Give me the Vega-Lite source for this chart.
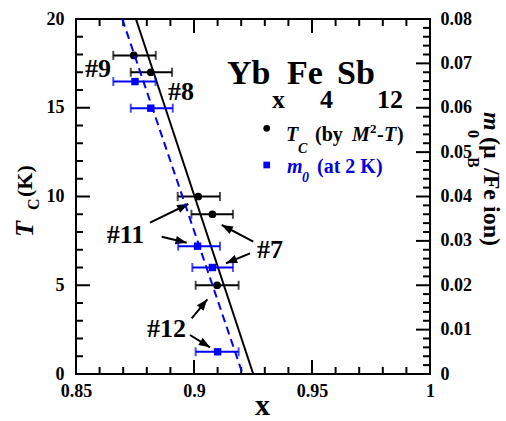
{
  "$schema": "https://vega.github.io/schema/vega-lite/v6.json",
  "width": 354,
  "height": 355,
  "autosize": {"type": "none"},
  "padding": {"left": 76, "top": 19, "right": 76, "bottom": 47},
  "background": "white",
  "config": {
    "view": {"stroke": "black", "strokeWidth": 2},
    "axis": {
      "grid": false, "domain": false, "ticks": false,
      "labelFont": "Liberation Serif", "labelFontWeight": "bold", "labelFontSize": 18, "labelColor": "black",
      "labelFlush": false, "labelOverlap": false, "labelBound": false, "title": null
    },
    "text": {"font": "Liberation Serif", "fontWeight": "bold", "color": "black"}
  },
  "datasets": {
    "blk": [
      {"x": 0.8745, "tc": 17.95, "xlo": 0.8658, "xhi": 0.8838},
      {"x": 0.8817, "tc": 17.0, "xlo": 0.8732, "xhi": 0.8907},
      {"x": 0.9018, "tc": 10.0, "xlo": 0.8931, "xhi": 0.9110},
      {"x": 0.9078, "tc": 9.0, "xlo": 0.8989, "xhi": 0.9165},
      {"x": 0.9098, "tc": 5.0, "xlo": 0.9007, "xhi": 0.9189}
    ],
    "blu": [
      {"x": 0.8750, "m": 0.0659, "xlo": 0.8658, "xhi": 0.8837},
      {"x": 0.8817, "m": 0.0599, "xlo": 0.8732, "xhi": 0.8910},
      {"x": 0.9015, "m": 0.0288, "xlo": 0.8933, "xhi": 0.9110},
      {"x": 0.9078, "m": 0.0240, "xlo": 0.8993, "xhi": 0.9165},
      {"x": 0.9100, "m": 0.0050, "xlo": 0.9007, "xhi": 0.9189}
    ],
    "arrows": [
      {"sx": 0.88136, "sy": 8.524, "tx": 0.89758, "ty": 9.577},
      {"sx": 0.88631, "sy": 7.735, "tx": 0.89691, "ty": 7.397},
      {"sx": 0.92513, "sy": 7.453, "tx": 0.91174, "ty": 8.394},
      {"sx": 0.92373, "sy": 6.800, "tx": 0.91356, "ty": 6.237},
      {"sx": 0.89903, "sy": 3.138, "tx": 0.90564, "ty": 4.208},
      {"sx": 0.89831, "sy": 2.197, "tx": 0.90678, "ty": 1.504}
    ],
    "tcline": [{"x": 0.8754, "tc": 20}, {"x": 0.9251, "tc": 0}],
    "mline": [{"x": 0.8696, "m": 0.08}, {"x": 0.9206, "m": 0}],
    "xmaj": [{"v": 0.85}, {"v": 0.9}, {"v": 0.95}, {"v": 1}],
    "xmin": [{"v": 0.86}, {"v": 0.87}, {"v": 0.88}, {"v": 0.89}, {"v": 0.91}, {"v": 0.92}, {"v": 0.93}, {"v": 0.94}, {"v": 0.96}, {"v": 0.97}, {"v": 0.98}, {"v": 0.99}],
    "ymaj": [{"v": 0}, {"v": 5}, {"v": 10}, {"v": 15}, {"v": 20}],
    "ymin": [{"v": 1}, {"v": 2}, {"v": 3}, {"v": 4}, {"v": 6}, {"v": 7}, {"v": 8}, {"v": 9}, {"v": 11}, {"v": 12}, {"v": 13}, {"v": 14}, {"v": 16}, {"v": 17}, {"v": 18}, {"v": 19}],
    "mmaj": [{"v": 0}, {"v": 0.01}, {"v": 0.02}, {"v": 0.03}, {"v": 0.04}, {"v": 0.05}, {"v": 0.06}, {"v": 0.07}, {"v": 0.08}],
    "mmin": [{"v": 0.002}, {"v": 0.004}, {"v": 0.006}, {"v": 0.008}, {"v": 0.012}, {"v": 0.014}, {"v": 0.016}, {"v": 0.018}, {"v": 0.022}, {"v": 0.024}, {"v": 0.026}, {"v": 0.028}, {"v": 0.032}, {"v": 0.034}, {"v": 0.036}, {"v": 0.038}, {"v": 0.042}, {"v": 0.044}, {"v": 0.046}, {"v": 0.048}, {"v": 0.052}, {"v": 0.054}, {"v": 0.056}, {"v": 0.058}, {"v": 0.062}, {"v": 0.064}, {"v": 0.066}, {"v": 0.068}, {"v": 0.072}, {"v": 0.074}, {"v": 0.076}, {"v": 0.078}]
  },
  "layer": [
    {
      "layer": [
        {
          "data": {"name": "tcline"},
          "mark": {"type": "line", "color": "black", "strokeWidth": 2},
          "encoding": {
            "x": {"field": "x", "type": "quantitative", "scale": {"domain": [0.85, 1], "nice": false, "zero": false},
              "axis": {"orient": "bottom", "title": null, "format": "~g", "values": [0.85, 0.9, 0.95, 1],
                "ticks": false, "labelPadding": 8, "labelOverlap": false, "labelFlush": false}},
            "y": {"field": "tc", "type": "quantitative", "scale": {"domain": [0, 20], "nice": false, "zero": false},
              "axis": {"orient": "left", "title": null, "format": "~g", "values": [0, 5, 10, 15, 20],
                "ticks": false, "labelPadding": 12, "labelOverlap": false, "labelFlush": false}}
          }
        },
        {
          "data": {"name": "xmaj"},
          "transform": [{"calculate": "0", "as": "a1"}, {"calculate": "0.789", "as": "a2"}, {"calculate": "20", "as": "b1"}, {"calculate": "19.211", "as": "b2"}],
          "layer": [
            {
              "mark": {"type": "rule", "color": "black", "strokeWidth": 2},
              "encoding": {
                "x": {"field": "v", "type": "quantitative", "scale": {"domain": [0.85, 1], "nice": false, "zero": false}},
                "y": {"field": "a1", "type": "quantitative", "scale": {"domain": [0, 20], "nice": false, "zero": false}},
                "y2": {"field": "a2"}
              }
            },
            {
              "mark": {"type": "rule", "color": "black", "strokeWidth": 2},
              "encoding": {
                "x": {"field": "v", "type": "quantitative", "scale": {"domain": [0.85, 1], "nice": false, "zero": false}},
                "y": {"field": "b1", "type": "quantitative", "scale": {"domain": [0, 20], "nice": false, "zero": false}},
                "y2": {"field": "b2"}
              }
            }
          ]
        },
        {
          "data": {"name": "xmin"},
          "transform": [{"calculate": "0", "as": "a1"}, {"calculate": "0.394", "as": "a2"}, {"calculate": "20", "as": "b1"}, {"calculate": "19.606", "as": "b2"}],
          "layer": [
            {
              "mark": {"type": "rule", "color": "black", "strokeWidth": 2},
              "encoding": {
                "x": {"field": "v", "type": "quantitative", "scale": {"domain": [0.85, 1], "nice": false, "zero": false}},
                "y": {"field": "a1", "type": "quantitative", "scale": {"domain": [0, 20], "nice": false, "zero": false}},
                "y2": {"field": "a2"}
              }
            },
            {
              "mark": {"type": "rule", "color": "black", "strokeWidth": 2},
              "encoding": {
                "x": {"field": "v", "type": "quantitative", "scale": {"domain": [0.85, 1], "nice": false, "zero": false}},
                "y": {"field": "b1", "type": "quantitative", "scale": {"domain": [0, 20], "nice": false, "zero": false}},
                "y2": {"field": "b2"}
              }
            }
          ]
        },
        {
          "data": {"name": "ymaj"},
          "transform": [{"calculate": "0.85", "as": "a1"}, {"calculate": "0.85593", "as": "a2"}],
          "mark": {"type": "rule", "color": "black", "strokeWidth": 2},
          "encoding": {
            "x": {"field": "a1", "type": "quantitative", "scale": {"domain": [0.85, 1], "nice": false, "zero": false}},
            "x2": {"field": "a2"},
            "y": {"field": "v", "type": "quantitative", "scale": {"domain": [0, 20], "nice": false, "zero": false}}
          }
        },
        {
          "data": {"name": "ymin"},
          "transform": [{"calculate": "0.85", "as": "a1"}, {"calculate": "0.85297", "as": "a2"}],
          "mark": {"type": "rule", "color": "black", "strokeWidth": 2},
          "encoding": {
            "x": {"field": "a1", "type": "quantitative", "scale": {"domain": [0.85, 1], "nice": false, "zero": false}},
            "x2": {"field": "a2"},
            "y": {"field": "v", "type": "quantitative", "scale": {"domain": [0, 20], "nice": false, "zero": false}}
          }
        },
        {
          "data": {"name": "blk"},
          "mark": {"type": "errorbar", "ticks": {"size": 9}, "color": "black", "thickness": 2},
          "encoding": {
            "x": {"field": "xlo", "type": "quantitative", "scale": {"domain": [0.85, 1], "nice": false, "zero": false}},
            "x2": {"field": "xhi"},
            "y": {"field": "tc", "type": "quantitative", "scale": {"domain": [0, 20], "nice": false, "zero": false}}
          }
        },
        {
          "data": {"name": "blk"},
          "mark": {"type": "point", "shape": "circle", "filled": true, "size": 60, "color": "black", "opacity": 1},
          "encoding": {
            "x": {"field": "x", "type": "quantitative", "scale": {"domain": [0.85, 1], "nice": false, "zero": false}},
            "y": {"field": "tc", "type": "quantitative", "scale": {"domain": [0, 20], "nice": false, "zero": false}}
          }
        },
        {
          "data": {"name": "arrows"},
          "mark": {"type": "rule", "color": "black", "strokeWidth": 2},
          "encoding": {
            "x": {"field": "sx", "type": "quantitative", "scale": {"domain": [0.85, 1], "nice": false, "zero": false}},
            "y": {"field": "sy", "type": "quantitative", "scale": {"domain": [0, 20], "nice": false, "zero": false}},
            "x2": {"field": "tx"},
            "y2": {"field": "ty"}
          }
        },
        {
          "data": {"name": "arrows"},
          "transform": [{"calculate": "atan2(-(datum.ty-datum.sy)*355/20, (datum.tx-datum.sx)*354/0.15)*180/PI", "as": "ang"}],
          "mark": {"type": "point", "shape": "M0,0L-1,-0.38L-1,0.38Z", "filled": true, "color": "black", "opacity": 1, "size": 500},
          "encoding": {
            "x": {"field": "tx", "type": "quantitative", "scale": {"domain": [0.85, 1], "nice": false, "zero": false}},
            "y": {"field": "ty", "type": "quantitative", "scale": {"domain": [0, 20], "nice": false, "zero": false}},
            "angle": {"field": "ang", "type": "quantitative", "scale": null}
          }
        },
        {
          "data": {"values": [
            {"tx": 0.8593, "ty": 16.749, "t": "#9"},
            {"tx": 0.8945, "ty": 15.437, "t": "#8"},
            {"tx": 0.8710, "ty": 7.380, "t": "#11"},
            {"tx": 0.9322, "ty": 6.518, "t": "#7"},
            {"tx": 0.8884, "ty": 2.101, "t": "#12"}
          ]},
          "mark": {"type": "text", "fontSize": 26, "align": "center", "baseline": "alphabetic"},
          "encoding": {
            "x": {"field": "tx", "type": "quantitative", "scale": {"domain": [0.85, 1], "nice": false, "zero": false}},
            "y": {"field": "ty", "type": "quantitative", "scale": {"domain": [0, 20], "nice": false, "zero": false}},
            "text": {"field": "t"}
          }
        },
        {
          "data": {"values": [
            {"tx": 0.91398, "ty": 16.338, "t": "Yb"},
            {"tx": 0.93941, "ty": 16.338, "t": "Fe"},
            {"tx": 0.96059, "ty": 16.338, "t": "Sb"}
          ]},
          "mark": {"type": "text", "fontSize": 34, "align": "left", "baseline": "alphabetic"},
          "encoding": {
            "x": {"field": "tx", "type": "quantitative", "scale": {"domain": [0.85, 1], "nice": false, "zero": false}},
            "y": {"field": "ty", "type": "quantitative", "scale": {"domain": [0, 20], "nice": false, "zero": false}},
            "text": {"field": "t"}
          }
        },
        {
          "data": {"values": [
            {"tx": 0.93305, "ty": 14.986, "t": "x"},
            {"tx": 0.95339, "ty": 14.986, "t": "4"},
            {"tx": 0.97754, "ty": 14.986, "t": "12"}
          ]},
          "mark": {"type": "text", "fontSize": 26, "align": "left", "baseline": "alphabetic"},
          "encoding": {
            "x": {"field": "tx", "type": "quantitative", "scale": {"domain": [0.85, 1], "nice": false, "zero": false}},
            "y": {"field": "ty", "type": "quantitative", "scale": {"domain": [0, 20], "nice": false, "zero": false}},
            "text": {"field": "t"}
          }
        },
        {
          "data": {"values": [{"tx": 0.93081, "ty": 13.842}]},
          "mark": {"type": "point", "shape": "circle", "filled": true, "size": 45, "color": "black", "opacity": 1},
          "encoding": {
            "x": {"field": "tx", "type": "quantitative", "scale": {"domain": [0.85, 1], "nice": false, "zero": false}},
            "y": {"field": "ty", "type": "quantitative", "scale": {"domain": [0, 20], "nice": false, "zero": false}}
          }
        },
        {
          "data": {"values": [{"tx": 0.93081, "ty": 11.775}]},
          "mark": {"type": "point", "shape": "square", "filled": true, "size": 45, "color": "#0000ff", "opacity": 1},
          "encoding": {
            "x": {"field": "tx", "type": "quantitative", "scale": {"domain": [0.85, 1], "nice": false, "zero": false}},
            "y": {"field": "ty", "type": "quantitative", "scale": {"domain": [0, 20], "nice": false, "zero": false}}
          }
        },
        {
          "data": {"values": [
            {"tx": 0.93898, "ty": 13.099, "t": "T"},
            {"tx": 0.96695, "ty": 13.099, "t": "M"},
            {"tx": 0.98051, "ty": 13.099, "t": "T"}
          ]},
          "mark": {"type": "text", "fontSize": 20, "fontStyle": "italic", "align": "left", "baseline": "alphabetic"},
          "encoding": {
            "x": {"field": "tx", "type": "quantitative", "scale": {"domain": [0.85, 1], "nice": false, "zero": false}},
            "y": {"field": "ty", "type": "quantitative", "scale": {"domain": [0, 20], "nice": false, "zero": false}},
            "text": {"field": "t"}
          }
        },
        {
          "data": {"values": [
            {"tx": 0.95127, "ty": 13.099, "t": "(by"},
            {"tx": 0.97754, "ty": 13.099, "t": "-"},
            {"tx": 0.98602, "ty": 13.099, "t": ")"}
          ]},
          "mark": {"type": "text", "fontSize": 20, "align": "left", "baseline": "alphabetic"},
          "encoding": {
            "x": {"field": "tx", "type": "quantitative", "scale": {"domain": [0.85, 1], "nice": false, "zero": false}},
            "y": {"field": "ty", "type": "quantitative", "scale": {"domain": [0, 20], "nice": false, "zero": false}},
            "text": {"field": "t"}
          }
        },
        {
          "data": {"values": [{"tx": 0.94407, "ty": 12.451, "t": "C"}]},
          "mark": {"type": "text", "fontSize": 14, "fontStyle": "italic", "align": "left", "baseline": "alphabetic"},
          "encoding": {
            "x": {"field": "tx", "type": "quantitative", "scale": {"domain": [0.85, 1], "nice": false, "zero": false}},
            "y": {"field": "ty", "type": "quantitative", "scale": {"domain": [0, 20], "nice": false, "zero": false}},
            "text": {"field": "t"}
          }
        },
        {
          "data": {"values": [{"tx": 0.97458, "ty": 13.577, "t": "2"}]},
          "mark": {"type": "text", "fontSize": 13, "align": "left", "baseline": "alphabetic"},
          "encoding": {
            "x": {"field": "tx", "type": "quantitative", "scale": {"domain": [0.85, 1], "nice": false, "zero": false}},
            "y": {"field": "ty", "type": "quantitative", "scale": {"domain": [0, 20], "nice": false, "zero": false}},
            "text": {"field": "t"}
          }
        },
        {
          "data": {"values": [{"tx": 0.93941, "ty": 11.324, "t": "m"}]},
          "mark": {"type": "text", "fontSize": 20, "fontStyle": "italic", "color": "#0000dd", "align": "left", "baseline": "alphabetic"},
          "encoding": {
            "x": {"field": "tx", "type": "quantitative", "scale": {"domain": [0.85, 1], "nice": false, "zero": false}},
            "y": {"field": "ty", "type": "quantitative", "scale": {"domain": [0, 20], "nice": false, "zero": false}},
            "text": {"field": "t"}
          }
        },
        {
          "data": {"values": [{"tx": 0.94576, "ty": 10.817, "t": "0"}]},
          "mark": {"type": "text", "fontSize": 14, "fontStyle": "italic", "color": "#0000dd", "align": "left", "baseline": "alphabetic"},
          "encoding": {
            "x": {"field": "tx", "type": "quantitative", "scale": {"domain": [0.85, 1], "nice": false, "zero": false}},
            "y": {"field": "ty", "type": "quantitative", "scale": {"domain": [0, 20], "nice": false, "zero": false}},
            "text": {"field": "t"}
          }
        },
        {
          "data": {"values": [{"tx": 0.95212, "ty": 11.324, "t": "(at 2 K)"}]},
          "mark": {"type": "text", "fontSize": 20, "color": "#0000dd", "align": "left", "baseline": "alphabetic"},
          "encoding": {
            "x": {"field": "tx", "type": "quantitative", "scale": {"domain": [0.85, 1], "nice": false, "zero": false}},
            "y": {"field": "ty", "type": "quantitative", "scale": {"domain": [0, 20], "nice": false, "zero": false}},
            "text": {"field": "t"}
          }
        },
        {
          "data": {"values": [{"tx": 0.83178, "ty": 7.718, "t": "T"}]},
          "mark": {"type": "text", "fontSize": 26, "fontStyle": "italic", "angle": 270, "align": "left", "baseline": "alphabetic"},
          "encoding": {
            "x": {"field": "tx", "type": "quantitative", "scale": {"domain": [0.85, 1], "nice": false, "zero": false}},
            "y": {"field": "ty", "type": "quantitative", "scale": {"domain": [0, 20], "nice": false, "zero": false}},
            "text": {"field": "t"}
          }
        },
        {
          "data": {"values": [{"tx": 0.83432, "ty": 9.239, "t": "C"}]},
          "mark": {"type": "text", "fontSize": 16, "angle": 270, "align": "left", "baseline": "alphabetic"},
          "encoding": {
            "x": {"field": "tx", "type": "quantitative", "scale": {"domain": [0.85, 1], "nice": false, "zero": false}},
            "y": {"field": "ty", "type": "quantitative", "scale": {"domain": [0, 20], "nice": false, "zero": false}},
            "text": {"field": "t"}
          }
        },
        {
          "data": {"values": [{"tx": 0.83136, "ty": 9.972, "t": "(K)"}]},
          "mark": {"type": "text", "fontSize": 22, "angle": 270, "align": "left", "baseline": "alphabetic"},
          "encoding": {
            "x": {"field": "tx", "type": "quantitative", "scale": {"domain": [0.85, 1], "nice": false, "zero": false}},
            "y": {"field": "ty", "type": "quantitative", "scale": {"domain": [0, 20], "nice": false, "zero": false}},
            "text": {"field": "t"}
          }
        },
        {
          "data": {"values": [{"tx": 1.02288, "ty": 14.761, "t": "m"}]},
          "mark": {"type": "text", "fontSize": 24, "fontStyle": "italic", "angle": 90, "align": "left", "baseline": "alphabetic"},
          "encoding": {
            "x": {"field": "tx", "type": "quantitative", "scale": {"domain": [0.85, 1], "nice": false, "zero": false}},
            "y": {"field": "ty", "type": "quantitative", "scale": {"domain": [0, 20], "nice": false, "zero": false}},
            "text": {"field": "t"}
          }
        },
        {
          "data": {"values": [
            {"tx": 1.01610, "ty": 13.746, "t": "0"},
            {"tx": 1.01610, "ty": 12.225, "t": "B"}
          ]},
          "mark": {"type": "text", "fontSize": 16, "angle": 90, "align": "left", "baseline": "alphabetic"},
          "encoding": {
            "x": {"field": "tx", "type": "quantitative", "scale": {"domain": [0.85, 1], "nice": false, "zero": false}},
            "y": {"field": "ty", "type": "quantitative", "scale": {"domain": [0, 20], "nice": false, "zero": false}},
            "text": {"field": "t"}
          }
        },
        {
          "data": {"values": [
            {"tx": 1.02288, "ty": 13.352, "t": "(μ"},
            {"tx": 1.02288, "ty": 11.606, "t": "/Fe ion)"}
          ]},
          "mark": {"type": "text", "fontSize": 24, "angle": 90, "align": "left", "baseline": "alphabetic"},
          "encoding": {
            "x": {"field": "tx", "type": "quantitative", "scale": {"domain": [0.85, 1], "nice": false, "zero": false}},
            "y": {"field": "ty", "type": "quantitative", "scale": {"domain": [0, 20], "nice": false, "zero": false}},
            "text": {"field": "t"}
          }
        },
        {
          "data": {"values": [{"tx": 0.92903, "ty": -2.31, "t": "x"}]},
          "mark": {"type": "text", "fontSize": 30, "align": "center", "baseline": "alphabetic"},
          "encoding": {
            "x": {"field": "tx", "type": "quantitative", "scale": {"domain": [0.85, 1], "nice": false, "zero": false}},
            "y": {"field": "ty", "type": "quantitative", "scale": {"domain": [0, 20], "nice": false, "zero": false}},
            "text": {"field": "t"}
          }
        }
      ]
    },
    {
      "layer": [
        {
          "data": {"name": "mline"},
          "mark": {"type": "line", "color": "#0000ff", "strokeWidth": 2, "strokeDash": [8, 5]},
          "encoding": {
            "x": {"field": "x", "type": "quantitative", "scale": {"domain": [0.85, 1], "nice": false, "zero": false}, "axis": null},
            "y": {"field": "m", "type": "quantitative", "scale": {"domain": [0, 0.08], "nice": false, "zero": false},
              "axis": {"orient": "right", "title": null, "format": "~g",
                "values": [0, 0.01, 0.02, 0.03, 0.04, 0.05, 0.06, 0.07, 0.08],
                "ticks": false, "labelPadding": 10, "labelOverlap": false, "labelFlush": false}}
          }
        },
        {
          "data": {"name": "mmaj"},
          "transform": [{"calculate": "1", "as": "a1"}, {"calculate": "0.99407", "as": "a2"}],
          "mark": {"type": "rule", "color": "black", "strokeWidth": 2},
          "encoding": {
            "x": {"field": "a1", "type": "quantitative", "scale": {"domain": [0.85, 1], "nice": false, "zero": false}},
            "x2": {"field": "a2"},
            "y": {"field": "v", "type": "quantitative", "scale": {"domain": [0, 0.08], "nice": false, "zero": false}}
          }
        },
        {
          "data": {"name": "mmin"},
          "transform": [{"calculate": "1", "as": "a1"}, {"calculate": "0.99703", "as": "a2"}],
          "mark": {"type": "rule", "color": "black", "strokeWidth": 2},
          "encoding": {
            "x": {"field": "a1", "type": "quantitative", "scale": {"domain": [0.85, 1], "nice": false, "zero": false}},
            "x2": {"field": "a2"},
            "y": {"field": "v", "type": "quantitative", "scale": {"domain": [0, 0.08], "nice": false, "zero": false}}
          }
        },
        {
          "data": {"name": "blu"},
          "mark": {"type": "errorbar", "ticks": {"size": 9}, "color": "#0000ff", "thickness": 2},
          "encoding": {
            "x": {"field": "xlo", "type": "quantitative", "scale": {"domain": [0.85, 1], "nice": false, "zero": false}},
            "x2": {"field": "xhi"},
            "y": {"field": "m", "type": "quantitative", "scale": {"domain": [0, 0.08], "nice": false, "zero": false}}
          }
        },
        {
          "data": {"name": "blu"},
          "mark": {"type": "point", "shape": "square", "filled": true, "size": 55, "color": "#0000ff", "opacity": 1},
          "encoding": {
            "x": {"field": "x", "type": "quantitative", "scale": {"domain": [0.85, 1], "nice": false, "zero": false}},
            "y": {"field": "m", "type": "quantitative", "scale": {"domain": [0, 0.08], "nice": false, "zero": false}}
          }
        }
      ]
    }
  ],
  "resolve": {"scale": {"y": "independent"}, "axis": {"x": "independent", "y": "independent"}}
}
